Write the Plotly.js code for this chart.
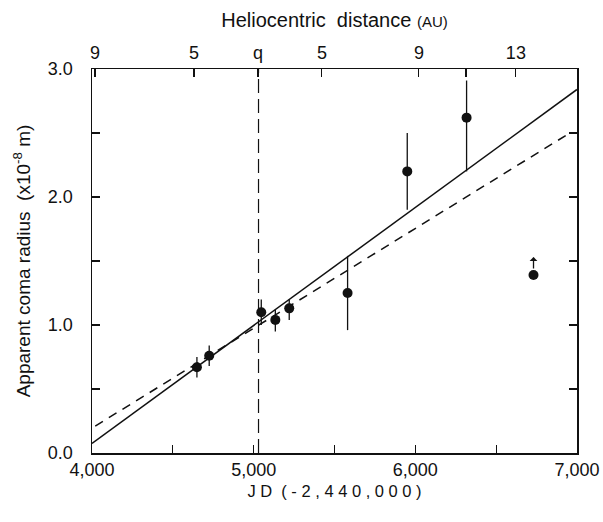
<!DOCTYPE html>
<html>
<head>
<meta charset="utf-8">
<script src="https://cdn.plot.ly/plotly-3.0.1.min.js"></script>
<style>html,body{margin:0;padding:0;background:#fff;}#chart{width:603px;height:522px;}</style>
</head>
<body>
<div id="chart"></div>
<script>
// Observations
const obsJD = [4649, 4725, 5047, 5134, 5220, 5581, 5950, 6317];
const obsRadius = [0.67, 0.76, 1.10, 1.04, 1.13, 1.25, 2.20, 2.62];
const errPlus = [0.08, 0.08, 0.10, 0.08, 0.07, 0.29, 0.30, 0.29];
const errMinus = [0.08, 0.08, 0.10, 0.09, 0.09, 0.29, 0.30, 0.42];
// Lower-limit point (arrow)
const limitJD = [6731];
const limitRadius = [1.39];
// Fitted lines
const solidJD = [4000, 7000];
const solidY = [0.075, 2.84];
const dashJD = [4020, 6930];
const dashY = [0.21, 2.48];
// Perihelion
const periJD = 5030;
const periY = [0, 3.0];
// Axis ticks
const xTickVals = [4000, 4500, 5000, 5500, 6000, 6500, 7000];
const xTickText = ["4,000", "", "5,000", "", "6,000", "", "7,000"];
const yTickVals = [0, 0.5, 1.0, 1.5, 2.0, 2.5, 3.0];
const yTickText = ["0.0", "", "1.0", "", "2.0", "", "3.0"];
const topTickVals = [4019, 4631, 5027, 5422, 6022, 6313, 6622];
const topTickText = ["9", "5", "q", "5", "9", "", "13"];

const ink = '#111';
const font = 'Liberation Sans, Arial, sans-serif';
const sp = '\u00a0';

const traces = [
  {x: solidJD, y: solidY, mode: 'lines', line: {color: ink, width: 1.5}, hoverinfo: 'skip'},
  {x: dashJD, y: dashY, mode: 'lines', line: {color: ink, width: 1.5, dash: '9px,7px'}, hoverinfo: 'skip'},
  {x: [periJD, periJD], y: periY, mode: 'lines', line: {color: ink, width: 1.2, dash: '14px,6px'}, hoverinfo: 'skip'},
  {x: obsJD, y: obsRadius, mode: 'markers', marker: {color: ink, size: 10},
   error_y: {type: 'data', symmetric: false, array: errPlus, arrayminus: errMinus, color: ink, thickness: 1.3, width: 0}},
  {x: limitJD, y: limitRadius, mode: 'markers', marker: {color: ink, size: 10}},
  {x: [4000], y: [0], xaxis: 'x2', mode: 'markers', marker: {opacity: 0}, hoverinfo: 'skip'}
];

const layout = {
  width: 603, height: 522,
  margin: {l: 92, r: 26, t: 69, b: 69},
  paper_bgcolor: '#fff', plot_bgcolor: '#fff',
  showlegend: false,
  font: {family: font, color: ink, size: 18},
  xaxis: {
    range: [4000, 7000], showgrid: false, zeroline: false,
    showline: true, linecolor: ink, linewidth: 1.5, mirror: true,
    ticks: 'inside', ticklen: 8, tickwidth: 1.2, tickcolor: ink,
    tickvals: xTickVals, ticktext: xTickText,
    tickfont: {size: 18, family: font},
    title: {text: 'J' + sp + 'D' + sp + sp + '(' + sp + '-' + sp + '2' + sp + ',' + sp + '4' + sp + '4' + sp + '0' + sp + ',' + sp + '0' + sp + '0' + sp + '0' + sp + ')', font: {size: 16.5, family: font}, standoff: 6}
  },
  xaxis2: {
    range: [4000, 7000], overlaying: 'x', side: 'top', showgrid: false, zeroline: false,
    showline: false, ticks: 'inside', ticklen: 8, tickwidth: 1.2, tickcolor: ink,
    tickvals: topTickVals, ticktext: topTickText, ticklabelstandoff: 5,
    tickfont: {size: 18, family: font},
    title: {text: 'Heliocentric' + sp + sp + 'distance' + sp + '<span style="font-size:15px">(AU)</span>', font: {size: 20, family: font}, standoff: 10}
  },
  yaxis: {
    range: [0, 3.0], showgrid: false, zeroline: false,
    showline: true, linecolor: ink, linewidth: 1.5, mirror: 'ticks',
    ticks: 'inside', ticklen: 8, tickwidth: 1.2, tickcolor: ink,
    tickvals: yTickVals, ticktext: yTickText, ticklabelstandoff: 14,
    tickfont: {size: 18, family: font},
    title: {text: 'Apparent' + sp + 'coma' + sp + 'radius' + sp + sp + '(x10<sup>-8</sup>' + sp + 'm)', font: {size: 19, family: font}, standoff: 12}
  },
  annotations: [{
    x: limitJD[0], y: limitRadius[0], xref: 'x', yref: 'y',
    text: '', showarrow: true, ax: 0, ay: 13, yshift: 18,
    arrowhead: 1, arrowsize: 1, arrowwidth: 1.3, arrowcolor: ink
  }]
};

Plotly.newPlot('chart', traces, layout, {displayModeBar: false, staticPlot: true});
</script>
</body>
</html>
